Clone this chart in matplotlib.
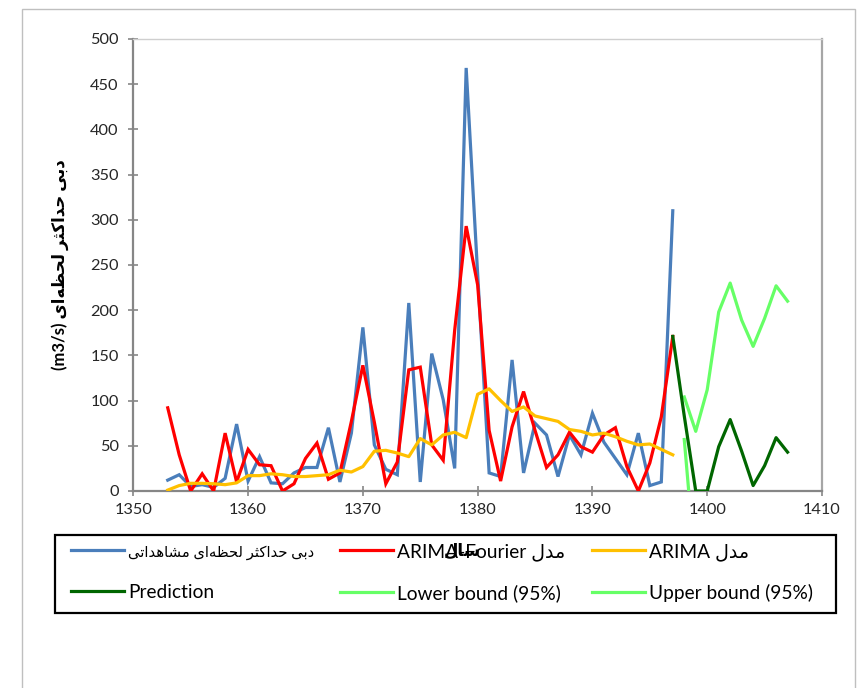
import matplotlib
matplotlib.use("Agg")
import matplotlib.pyplot as plt
from matplotlib.patches import Rectangle
from matplotlib.lines import Line2D

plt.rcParams['font.family'] = ['Lato', 'DejaVu Sans']

# ---------------- data ----------------
years_obs = list(range(1353, 1398))
observed = [12, 18, 5, 7, 4, 14, 74, 11, 38, 9, 8, 20, 26, 26, 70, 10, 64, 181, 51, 24,
            18, 208, 10, 152, 101, 25, 468, 240, 20, 16, 145, 20, 75, 62, 16, 62, 40, 86,
            54, 36, 18, 64, 6, 10, 310]
arima_fourier = [92, 40, 0, 19, 0, 64, 10, 46, 29, 28, 0, 8, 36, 53, 13, 20, 77, 139, 76, 8,
                 32, 134, 137, 51, 34, 178, 293, 228, 67, 11, 71, 110, 67, 26, 40, 65, 49, 43,
                 62, 70, 27, 0, 31, 82, 171]
arima = [1, 6, 8.5, 8.5, 8, 7, 9, 17, 17, 19, 18, 16, 16, 17, 18, 23, 21, 27, 44, 45,
         42, 38, 58, 51, 62, 65, 59, 107, 113, 100, 88, 93, 83, 80, 77, 68, 66, 62,
         64, 60, 55, 51, 52, 46, 40]
years_pred = list(range(1397, 1408))
prediction = [171, 83, 0, 0, 49, 79, 44, 6, 28, 59, 43]
years_bound = list(range(1398, 1408))
lower_bound = [57, -90, -112, -100, -72, -101, -148, -135, -109, -124]
upper_bound = [104, 66, 112, 198, 230, 189, 160, 191, 227, 210]

x_ticks = [1350, 1360, 1370, 1380, 1390, 1400, 1410]
y_ticks = [0, 50, 100, 150, 200, 250, 300, 350, 400, 450, 500]

lbl_observed = "دبی حداکثر لحظه‌ای مشاهداتی"
lbl_fourier_ar = "مدل"
lbl_fourier_lat = "ARIMA-Fourier"
lbl_arima_ar = "مدل"
lbl_arima_lat = "ARIMA"
lbl_pred = "Prediction"
lbl_lower = "Lower bound (95%)"
lbl_upper = "Upper bound (95%)"
ylabel_ar = "دبی حداکثر لحظه‌ای"
ylabel_unit = "(m3/s)"
xlabel_ar = "سال"

# ------------- simple Arabic/Persian shaping -------------
FORMS = {
    'ا': (0xFE8D, 0xFE8E, None, None),
    'ب': (0xFE8F, 0xFE90, 0xFE91, 0xFE92),
    'ت': (0xFE95, 0xFE96, 0xFE97, 0xFE98),
    'ث': (0xFE99, 0xFE9A, 0xFE9B, 0xFE9C),
    'ح': (0xFEA1, 0xFEA2, 0xFEA3, 0xFEA4),
    'د': (0xFEA9, 0xFEAA, None, None),
    'ر': (0xFEAD, 0xFEAE, None, None),
    'س': (0xFEB1, 0xFEB2, 0xFEB3, 0xFEB4),
    'ش': (0xFEB5, 0xFEB6, 0xFEB7, 0xFEB8),
    'ظ': (0xFEC5, 0xFEC6, 0xFEC7, 0xFEC8),
    'ل': (0xFEDD, 0xFEDE, 0xFEDF, 0xFEE0),
    'م': (0xFEE1, 0xFEE2, 0xFEE3, 0xFEE4),
    'ه': (0xFEE9, 0xFEEA, 0xFEEB, 0xFEEC),
    'ک': (0xFB8E, 0xFB8F, 0xFB90, 0xFB91),
    'ی': (0xFBFC, 0xFBFD, 0xFBFE, 0xFBFF),
}


def dual(c):
    return c in FORMS and FORMS[c][2] is not None


def rtl(text):
    out = []
    n = len(text)
    for i, c in enumerate(text):
        if c == '\u200c':
            continue
        if c not in FORMS:
            out.append(c)
            continue
        prev = text[i - 1] if i > 0 else ''
        nxt = text[i + 1] if i + 1 < n else ''
        pj = dual(prev)
        nj = nxt in FORMS and dual(c)
        iso, fin, ini, med = FORMS[c]
        if pj and nj:
            code = med
        elif pj:
            code = fin
        elif nj:
            code = ini
        else:
            code = iso
        out.append(chr(code))
    return ''.join(reversed(out))


# ---------------- figure ----------------
W, H = 858, 688
fig = plt.figure(figsize=(W / 100, H / 100), dpi=100)
fig.patch.set_facecolor('white')

# outer chart border
fig.add_artist(Rectangle((22 / W, -0.01), (855 - 22) / W, 1 - 9 / H + 0.01,
                         transform=fig.transFigure, fill=False,
                         edgecolor='#BFBFBF', linewidth=1.0))

ax = fig.add_axes([133.3 / W, (H - 491) / H, (822 - 133.3) / W, (491 - 39) / H])

c_obs = '#4A7EBB'
c_four = '#FF0000'
c_arima = '#FFC000'
c_pred = '#006600'
c_bound = '#66FF66'
lw = 2.3

ax.plot(years_obs, observed, color=c_obs, lw=lw, solid_joinstyle='miter', zorder=3)
ax.plot(years_obs, arima_fourier, color=c_four, lw=lw, solid_joinstyle='miter', zorder=4)
ax.plot(years_obs, arima, color=c_arima, lw=lw, zorder=5)
ax.plot(years_bound, lower_bound, color=c_bound, lw=lw, zorder=3)
ax.plot(years_bound, upper_bound, color=c_bound, lw=lw, zorder=3)
ax.plot(years_pred, prediction, color=c_pred, lw=lw, zorder=6)

ax.set_xlim(1350, 1410)
ax.set_ylim(0, 500)
ax.set_xticks(x_ticks)
ax.set_yticks(y_ticks)
ax.tick_params(axis='both', direction='inout', length=7, width=1.2, color='#868686',
               labelsize=11.8, labelcolor='#262626')
ax.tick_params(axis='y', pad=7)
ax.tick_params(axis='x', pad=5)
for s in ['left', 'bottom']:
    ax.spines[s].set_color('#868686')
    ax.spines[s].set_linewidth(1.6)
ax.spines['right'].set_color('#A6A6A6')
ax.spines['right'].set_linewidth(1.6)
ax.spines['top'].set_color('#CFCFCF')
ax.spines['top'].set_linewidth(1.0)

ax.set_ylabel(ylabel_unit + ' ' + rtl(ylabel_ar), fontsize=12, fontweight='bold',
              color='#000000')
ax.yaxis.set_label_coords((69 - 133.3) / (822 - 133.3), 0.5)

# legend box
fig.add_artist(Rectangle((55 / W, 1 - 613 / H), (836 - 55) / W, (613 - 535) / H,
                         transform=fig.transFigure, fill=False,
                         edgecolor='#000000', linewidth=1.6, zorder=2))

# legend (column-major order for ncol=3)
handles = [
    Line2D([], [], color=c_obs, lw=lw),
    Line2D([], [], color=c_pred, lw=lw),
    Line2D([], [], color=c_four, lw=lw),
    Line2D([], [], color=c_bound, lw=lw),
    Line2D([], [], color=c_arima, lw=lw),
    Line2D([], [], color=c_bound, lw=lw),
]
labels = [
    rtl(lbl_observed),
    lbl_pred,
    lbl_fourier_lat + ' ' + rtl(lbl_fourier_ar),
    lbl_lower,
    lbl_arima_lat + ' ' + rtl(lbl_arima_ar),
    lbl_upper,
]
leg = ax.legend(handles, labels, ncol=3, loc='upper left', mode='expand',
                bbox_to_anchor=(71 / W, 1 - 543 / H, (813 - 71) / W, 0.0),
                bbox_transform=fig.transFigure, frameon=False,
                fontsize=13.8, handlelength=2.76, handletextpad=0.22,
                borderpad=0.0, labelspacing=1.22, columnspacing=1.0, borderaxespad=0)
for t in leg.get_texts():
    t.set_color('#000000')
leg.get_texts()[0].set_fontsize(10.6)

# x-axis title (drawn over legend as in the original)
fig.text(462 / W, 1 - 551 / H, rtl(xlabel_ar), ha='center', va='center',
         fontsize=12, fontweight='bold', color='#000000', zorder=10)

fig.savefig('out.png', dpi=100)
